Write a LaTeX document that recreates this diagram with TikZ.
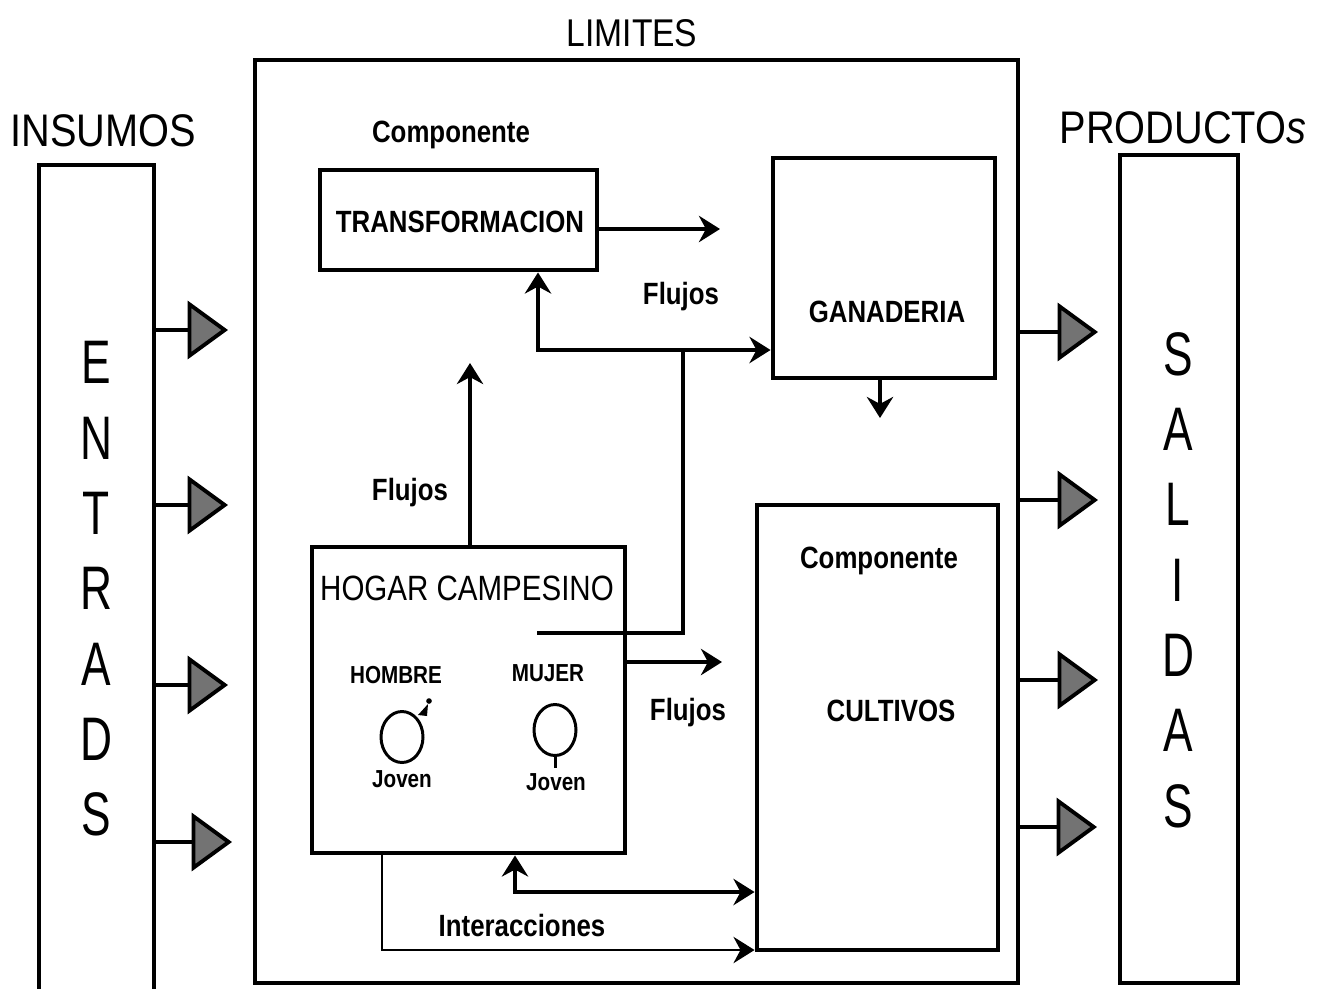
\documentclass[tikz,border=0pt]{standalone}
\usepackage{fontspec}
\setmainfont{Liberation Sans}
\newfontfamily\labfont[FakeStretch=0.84]{Liberation Sans}
\newfontfamily\headfont[FakeStretch=0.87]{Liberation Sans}
\newfontfamily\tallfont[FakeStretch=0.72]{Liberation Sans}
\usetikzlibrary{arrows.meta,fit,shapes.geometric}
\tikzset{
  box/.style={draw, line width=2.8pt, inner sep=0pt},
  lab/.style={font=\labfont\bfseries\fontsize{17.5}{20}\selectfont, inner sep=0pt},
  small/.style={font=\labfont\bfseries\fontsize{14}{16}\selectfont, inner sep=0pt},
  reg/.style={font=\labfont\fontsize{20}{24}\selectfont, inner sep=0pt},
  head/.style={font=\headfont\fontsize{26}{30}\selectfont, inner sep=0pt},
  tall/.style={font=\tallfont\fontsize{35}{42.9}\selectfont, align=center, inner sep=0pt},
  tip/.tip={Stealth[length=12pt,width=15pt,inset=4pt]},
  conn/.style={line width=2.1pt, -tip},
  heavy/.style={line width=2.8pt},
  light/.style={line width=1.2pt},
  inarr/.style={line width=2.2pt, -{Triangle[length=23pt,width=33pt,fill=black!55]}},
  person/.style={draw, ellipse, line width=1.7pt, minimum width=0.84cm, minimum height=1.02cm, inner sep=0pt}
}
\begin{document}
\begin{tikzpicture}[x=0.02cm, y=-0.02cm]
\useasboundingbox (0,0) rectangle (1318,988);

% headings
\node[head, font=\headfont\fontsize{22}{26}\selectfont] (limt) at (632,33) {LIMITES};
\node[head] (insu) at (103,131) {INSUMOS};
\node[head] (prod) at (1183,128) {PRODUCTO\textit{s}};

% big boxes
\node[box, fit={(255,60)(1018,983)}] (lim) {};
\node[box, fit={(39,165)(154,1010)}] (ent) {};
\node[box, fit={(1120,155)(1238,983)}] (sal) {};
\node[tall] (entt) at (96,589) {E\\N\\T\\R\\A\\D\\S};
\node[tall] (salt) at (1178,580) {S\\A\\L\\I\\D\\A\\S};

% components
\node[box, fit={(320,170)(597,270)}] (tra) {};
\node[lab] (trat) at (460,222) {TRANSFORMACION};
\node[lab] (comp1) at (451,135) {Componente};
\node[box, fit={(773,158)(995,378)}] (gan) {};
\node[lab] (gant) at (887,312) {GANADERIA};
\node[box, fit={(312,547)(625,853)}] (hog) {};
\node[reg] (hogt) at (467,588) {HOGAR CAMPESINO};
\node[box, fit={(757,505)(998,950)}] (cul) {};
\node[lab] (comp2) at (879,561) {Componente};
\node[lab] (cult) at (891,711) {CULTIVOS};

% household members
\node[small] (homb) at (396,675) {HOMBRE};
\node[small] (muje) at (548,673) {MUJER};
\node[person] (mc) at (402,737) {};
\node[person] (fc) at (555,730) {};
\draw[line width=1.7pt] (fc.south) -- ++(0,11);
\fill (418,715) -- (428,704) -- (427,716) -- cycle;
\fill (429,701) circle [radius=1.6pt];
\node[small] (jov1) at (402,779) {Joven};
\node[small] (jov2) at (556,782) {Joven};

% labels
\node[lab] (fl1) at (681,297) {Flujos};
\node[lab] (fl2) at (410,493) {Flujos};
\node[lab] (fl3) at (688,713) {Flujos};
\node[lab] (inte) at (522,925) {Interacciones};

% inputs
\coordinate (ea) at (228,330);
\coordinate (eb) at (228,505);
\coordinate (ec) at (228,685);
\coordinate (ed) at (232,842);
\foreach \c in {ea,eb,ec,ed} \draw[inarr] (ent.east |- \c) -- (\c);
% outputs
\coordinate (sa) at (1098,332);
\coordinate (sb) at (1098,500);
\coordinate (sc) at (1098,680);
\coordinate (sd) at (1097,827);
\foreach \c in {sa,sb,sc,sd} \draw[inarr] (lim.east |- \c) -- (\c);

% internal flows
\coordinate (t1) at (720,229);
\draw[conn] (tra.east |- t1) -- (t1);
\coordinate (j) at (538,350);
\coordinate (k) at (683,350);
\coordinate (h1) at (537,633);
\draw[line width=2.1pt, tip-tip] (j |- tra.south) -- (j) -- (gan.west |- j);
\draw[line width=2pt] (h1) -- (k |- h1) -- (k);
\coordinate (g1) at (880,418);
\draw[conn] (gan.south -| g1) -- (g1);
\coordinate (h2) at (470,363);
\draw[conn] (hog.north -| h2) -- (h2);
\coordinate (h3) at (722,662);
\draw[conn] (hog.east |- h3) -- (h3);

% interactions
\coordinate (b1) at (515,892);
\draw[heavy, tip-tip] (b1 |- hog.south) -- (b1) -- (cul.west |- b1);
\coordinate (b2) at (382,950);
\draw[light, -tip] (b2 |- hog.south) -- (b2) -- (cul.west |- b2);
\end{tikzpicture}
\end{document}
